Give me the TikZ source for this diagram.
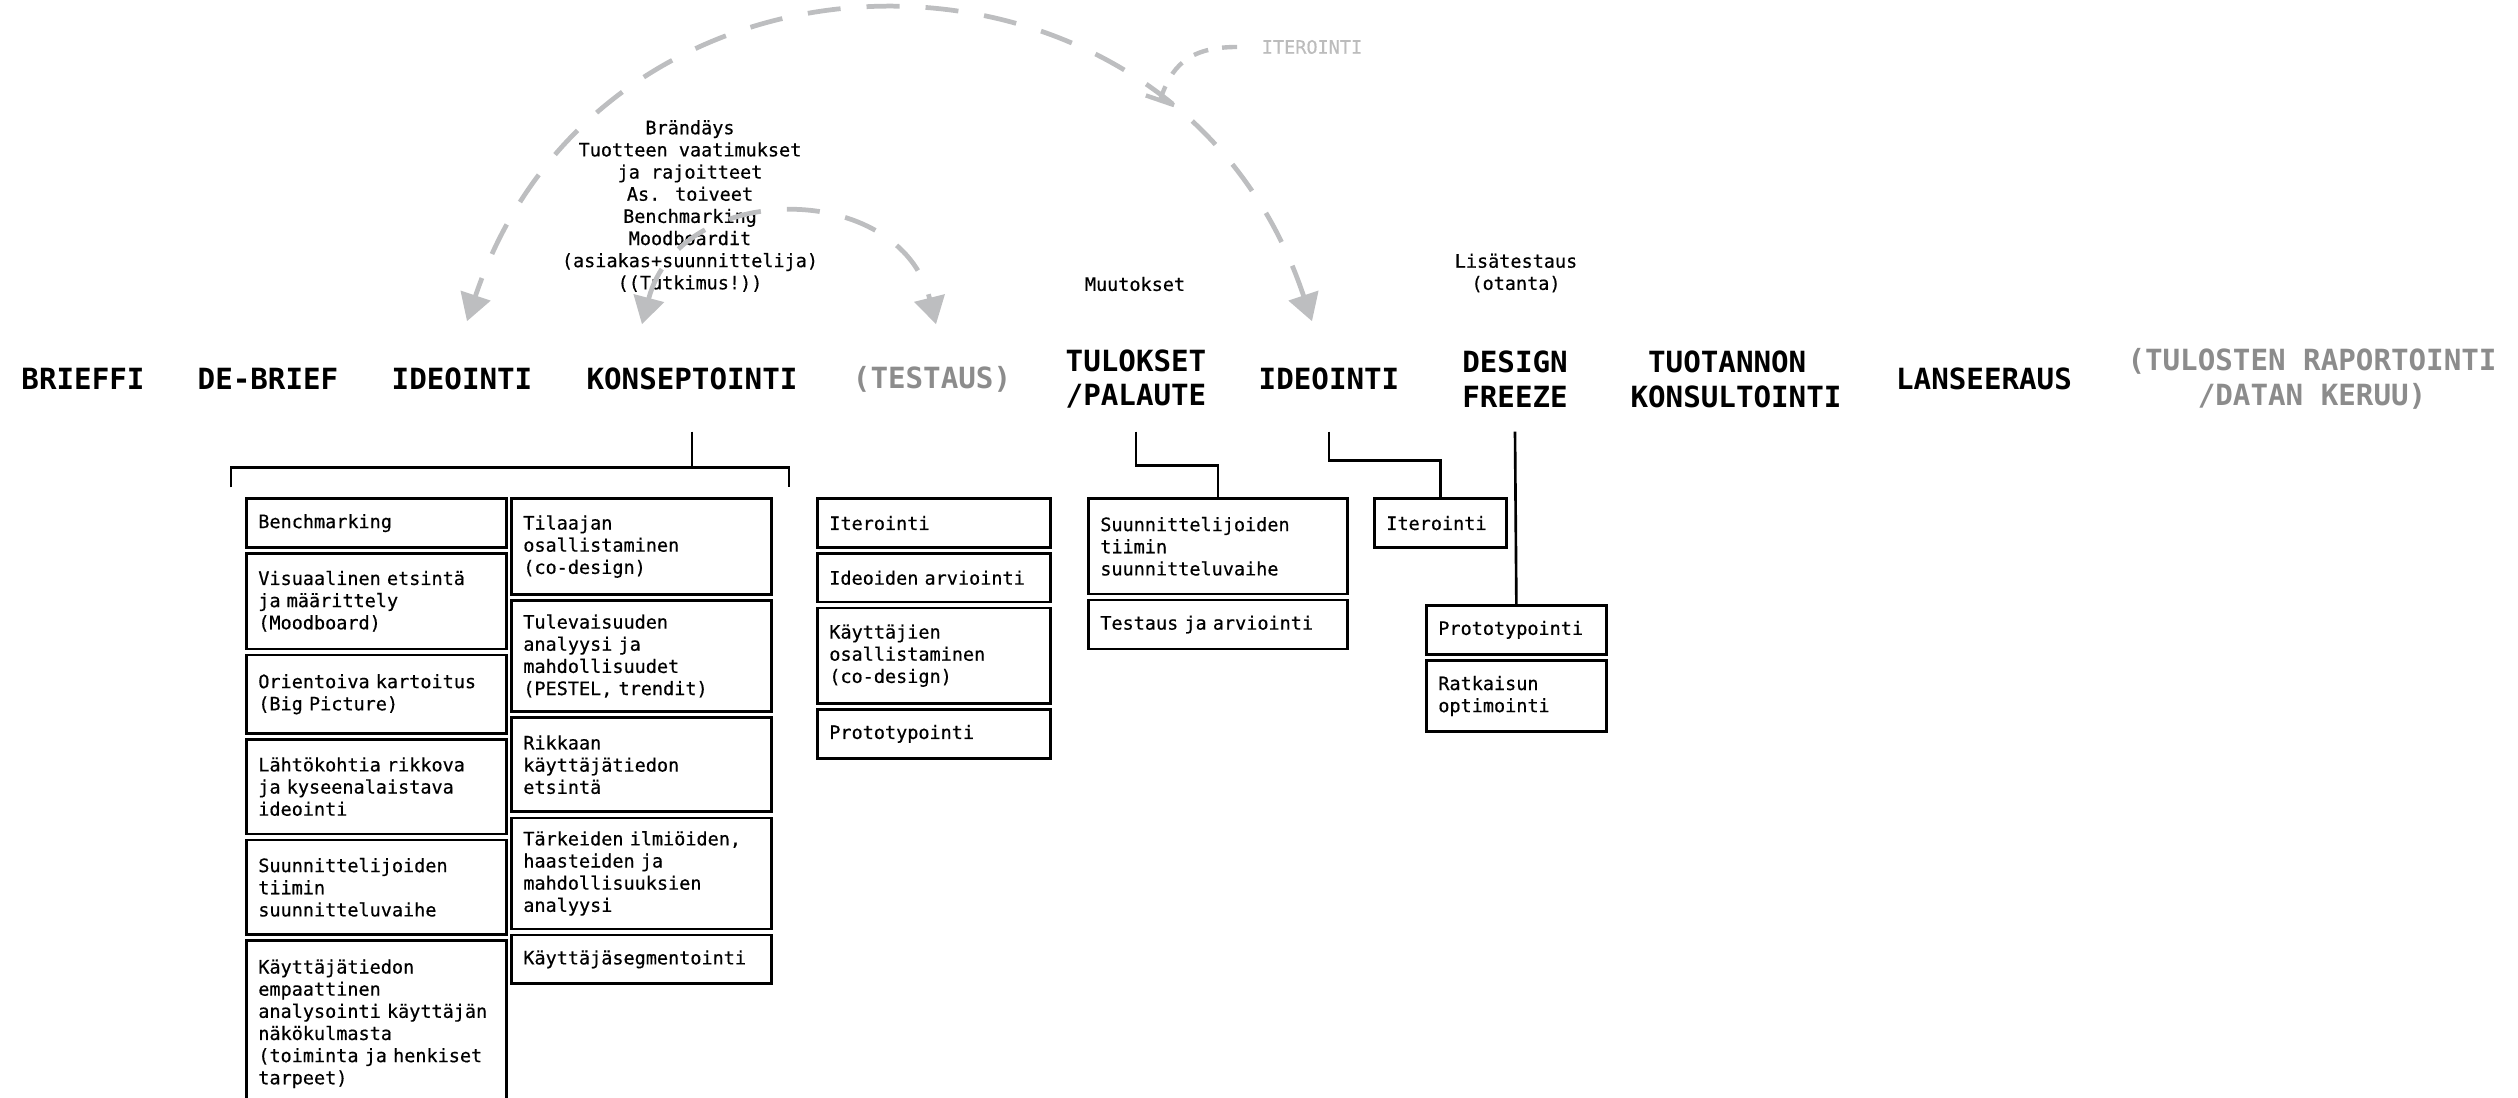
\documentclass[tikz,border=0pt]{standalone}
\usepackage{fontspec}
\usetikzlibrary{positioning,arrows.meta}
\newfontfamily\monofont{DejaVu Sans Mono}
\newfontfamily\monomed[FakeBold=0.5]{DejaVu Sans Mono}
\definecolor{arcgray}{HTML}{BDBEC0}
\definecolor{phasegray}{HTML}{8C8C8C}
\definecolor{notegray}{HTML}{BCBCBC}
\newcommand{\phasefont}{\monofont\bfseries\fontsize{8.3}{9.9}\selectfont}
\newcommand{\notefont}{\monomed\fontsize{5.26}{6.3}\selectfont}

\begin{document}
\begin{tikzpicture}[x=0.01cm,y=-0.01cm]
  \tikzstyle{phasetxt}=[font=\phasefont, align=center, minimum height=0.7cm, inner sep=0pt]
  \tikzstyle{notetxt}=[font=\notefont, align=center, inner sep=0pt]
  \tikzstyle{itembox}=[draw, line width=0.75pt, font=\notefont, align=left, anchor=north west, inner xsep=0.12cm, inner ysep=0pt]
  \tikzstyle{tieline}=[line width=0.75pt]
  \tikzstyle{dasharc}=[arcgray, line width=1.35pt, dash pattern=on 9.4pt off 7.4pt, <->, >={Triangle[length=7.7pt,width=8.7pt]}]
  \tikzstyle{leader}=[arcgray, line width=1.25pt, dash pattern=on 4.3pt off 4pt, -{Bar[width=8.5pt]}]
  \useasboundingbox (0,0) rectangle (2518,1098);

  \node[phasetxt] (brieffi) at (83,379) {BRIEFFI};
  \node[phasetxt] (debrief) at (268,379) {DE-BRIEF};
  \node[phasetxt] (ideo1) at (462,379) {IDEOINTI};
  \node[phasetxt] (konsept) at (692,379) {KONSEPTOINTI};
  \node[phasetxt, text=phasegray] (testaus) at (932,379) {(TESTAUS)};
  \node[phasetxt] (tulokset) at (1136,379) {TULOKSET\\/PALAUTE};
  \node[phasetxt] (ideo2) at (1329,379) {IDEOINTI};
  \node[phasetxt] (freeze) at (1515,379) {DESIGN\\FREEZE};
  \node[phasetxt] (tuotanto) at (1736,379) {TUOTANNON\hphantom{N}\\KONSULTOINTI};
  \node[phasetxt] (lanseeraus) at (1984,379) {LANSEERAUS};
  \node[phasetxt, text=phasegray] (raportti) at (2312,379) {(TULOSTEN RAPORTOINTI\\/DATAN KERUU)};

  \node[notetxt] (brand) at (690,206) {Brändäys\\Tuotteen vaatimukset\\ja rajoitteet\\As. toiveet\\Benchmarking\\Moodboardit\\(asiakas+suunnittelija)\\((Tutkimus!))};
  \node[notetxt] (muutokset) at (1135,284) {Muutokset};
  \node[notetxt] (lisatestaus) at (1516,273) {Lisätestaus\\(otanta)};
  \node[notetxt, text=notegray] (iterlbl) at (1312,47) {ITEROINTI};

  \node[itembox, text width=2.36cm, minimum height=0.485cm] (c1) at (245,497.5) {Benchmarking};
  \node[itembox, text width=2.36cm, minimum height=0.955cm, below=0.035cm of c1] (c2) {Visuaalinen etsintä\\ja määrittely\\(Moodboard)};
  \node[itembox, text width=2.36cm, minimum height=0.78cm, below=0.035cm of c2] (c3) {Orientoiva kartoitus\\(Big Picture)};
  \node[itembox, text width=2.36cm, minimum height=0.945cm, below=0.035cm of c3] (c4) {Lähtökohtia rikkova\\ja kyseenalaistava\\ideointi};
  \node[itembox, text width=2.36cm, minimum height=0.945cm, below=0.035cm of c4] (c5) {Suunnittelijoiden\\tiimin\\suunnitteluvaihe};
  \node[itembox, text width=2.36cm, minimum height=1.66cm, below=0.035cm of c5] (c6) {Käyttäjätiedon\\empaattinen\\analysointi käyttäjän\\näkökulmasta\\(toiminta ja henkiset\\tarpeet)};

  \node[itembox, text width=2.36cm, minimum height=0.955cm] (d1) at (510,497.5) {Tilaajan\\osallistaminen\\(co-design)};
  \node[itembox, text width=2.36cm, minimum height=1.11cm, below=0.035cm of d1] (d2) {Tulevaisuuden\\analyysi ja\\mahdollisuudet\\(PESTEL, trendit)};
  \node[itembox, text width=2.36cm, minimum height=0.94cm, below=0.035cm of d2] (d3) {Rikkaan\\käyttäjätiedon\\etsintä};
  \node[itembox, text width=2.36cm, minimum height=1.11cm, below=0.035cm of d3] (d4) {Tärkeiden ilmiöiden,\\haasteiden ja\\mahdollisuuksien\\analyysi};
  \node[itembox, text width=2.36cm, minimum height=0.485cm, below=0.035cm of d4] (d5) {Käyttäjäsegmentointi};

  \node[itembox, text width=2.09cm, minimum height=0.485cm] (e1) at (816,497.5) {Iterointi};
  \node[itembox, text width=2.09cm, minimum height=0.485cm, below=0.035cm of e1] (e2) {Ideoiden arviointi};
  \node[itembox, text width=2.09cm, minimum height=0.95cm, below=0.035cm of e2] (e3) {Käyttäjien\\osallistaminen\\(co-design)};
  \node[itembox, text width=2.09cm, minimum height=0.49cm, below=0.035cm of e3] (e4) {Prototypointi};

  \node[itembox, text width=2.35cm, minimum height=0.95cm] (f1) at (1087,497.5) {Suunnittelijoiden\\tiimin\\suunnitteluvaihe};
  \node[itembox, text width=2.35cm, minimum height=0.49cm, below=0.035cm of f1] (f2) {Testaus ja arviointi};

  \node[itembox, text width=1.08cm, minimum height=0.485cm] (g1) at (1373,497.5) {Iterointi};

  \node[itembox, text width=1.56cm, minimum height=0.49cm] (h1) at (1425,604) {Prototypointi};
  \node[itembox, text width=1.56cm, minimum height=0.71cm, below=0.035cm of h1] (h2) {Ratkaisun\\optimointi};

  \draw[tieline] ([yshift=-0.17cm]konsept.south) -- ++(0,36);
  \draw[tieline] ([xshift=-0.14cm,yshift=0.1cm]c1.north west) -- ++(0,-20) -- ++(558,0) -- ++(0,20);
  \draw[tieline] ([yshift=-0.17cm]tulokset.south) -- ++(0,34) -| (f1.north);
  \draw[tieline] ([yshift=-0.17cm]ideo2.south) -- ++(0,29) -| (g1.north);
  \draw[tieline] ([yshift=-0.17cm]freeze.south) -- (h1.north);

  \coordinate (i2end) at ([xshift=-0.17cm,yshift=0.22cm]ideo2.north);
  \coordinate (i1end) at ([xshift=0.05cm,yshift=0.22cm]ideo1.north);
  \coordinate (kend) at ([xshift=-0.5cm,yshift=0.19cm]konsept.north);
  \coordinate (tend) at ([xshift=0.04cm,yshift=0.19cm]testaus.north);
  \draw[dasharc] (i2end) .. controls +(-137,-412) and +(138,-412) .. (i1end) coordinate[pos=0.23] (iterhit);
  \draw[dasharc] (kend) .. controls +(38,-145) and +(-36,-145) .. (tend);
  \draw[leader] ([xshift=-0.24cm]iterlbl.west) .. controls +(-50,0) and +(12,-35) .. (iterhit);
\end{tikzpicture}
\end{document}
